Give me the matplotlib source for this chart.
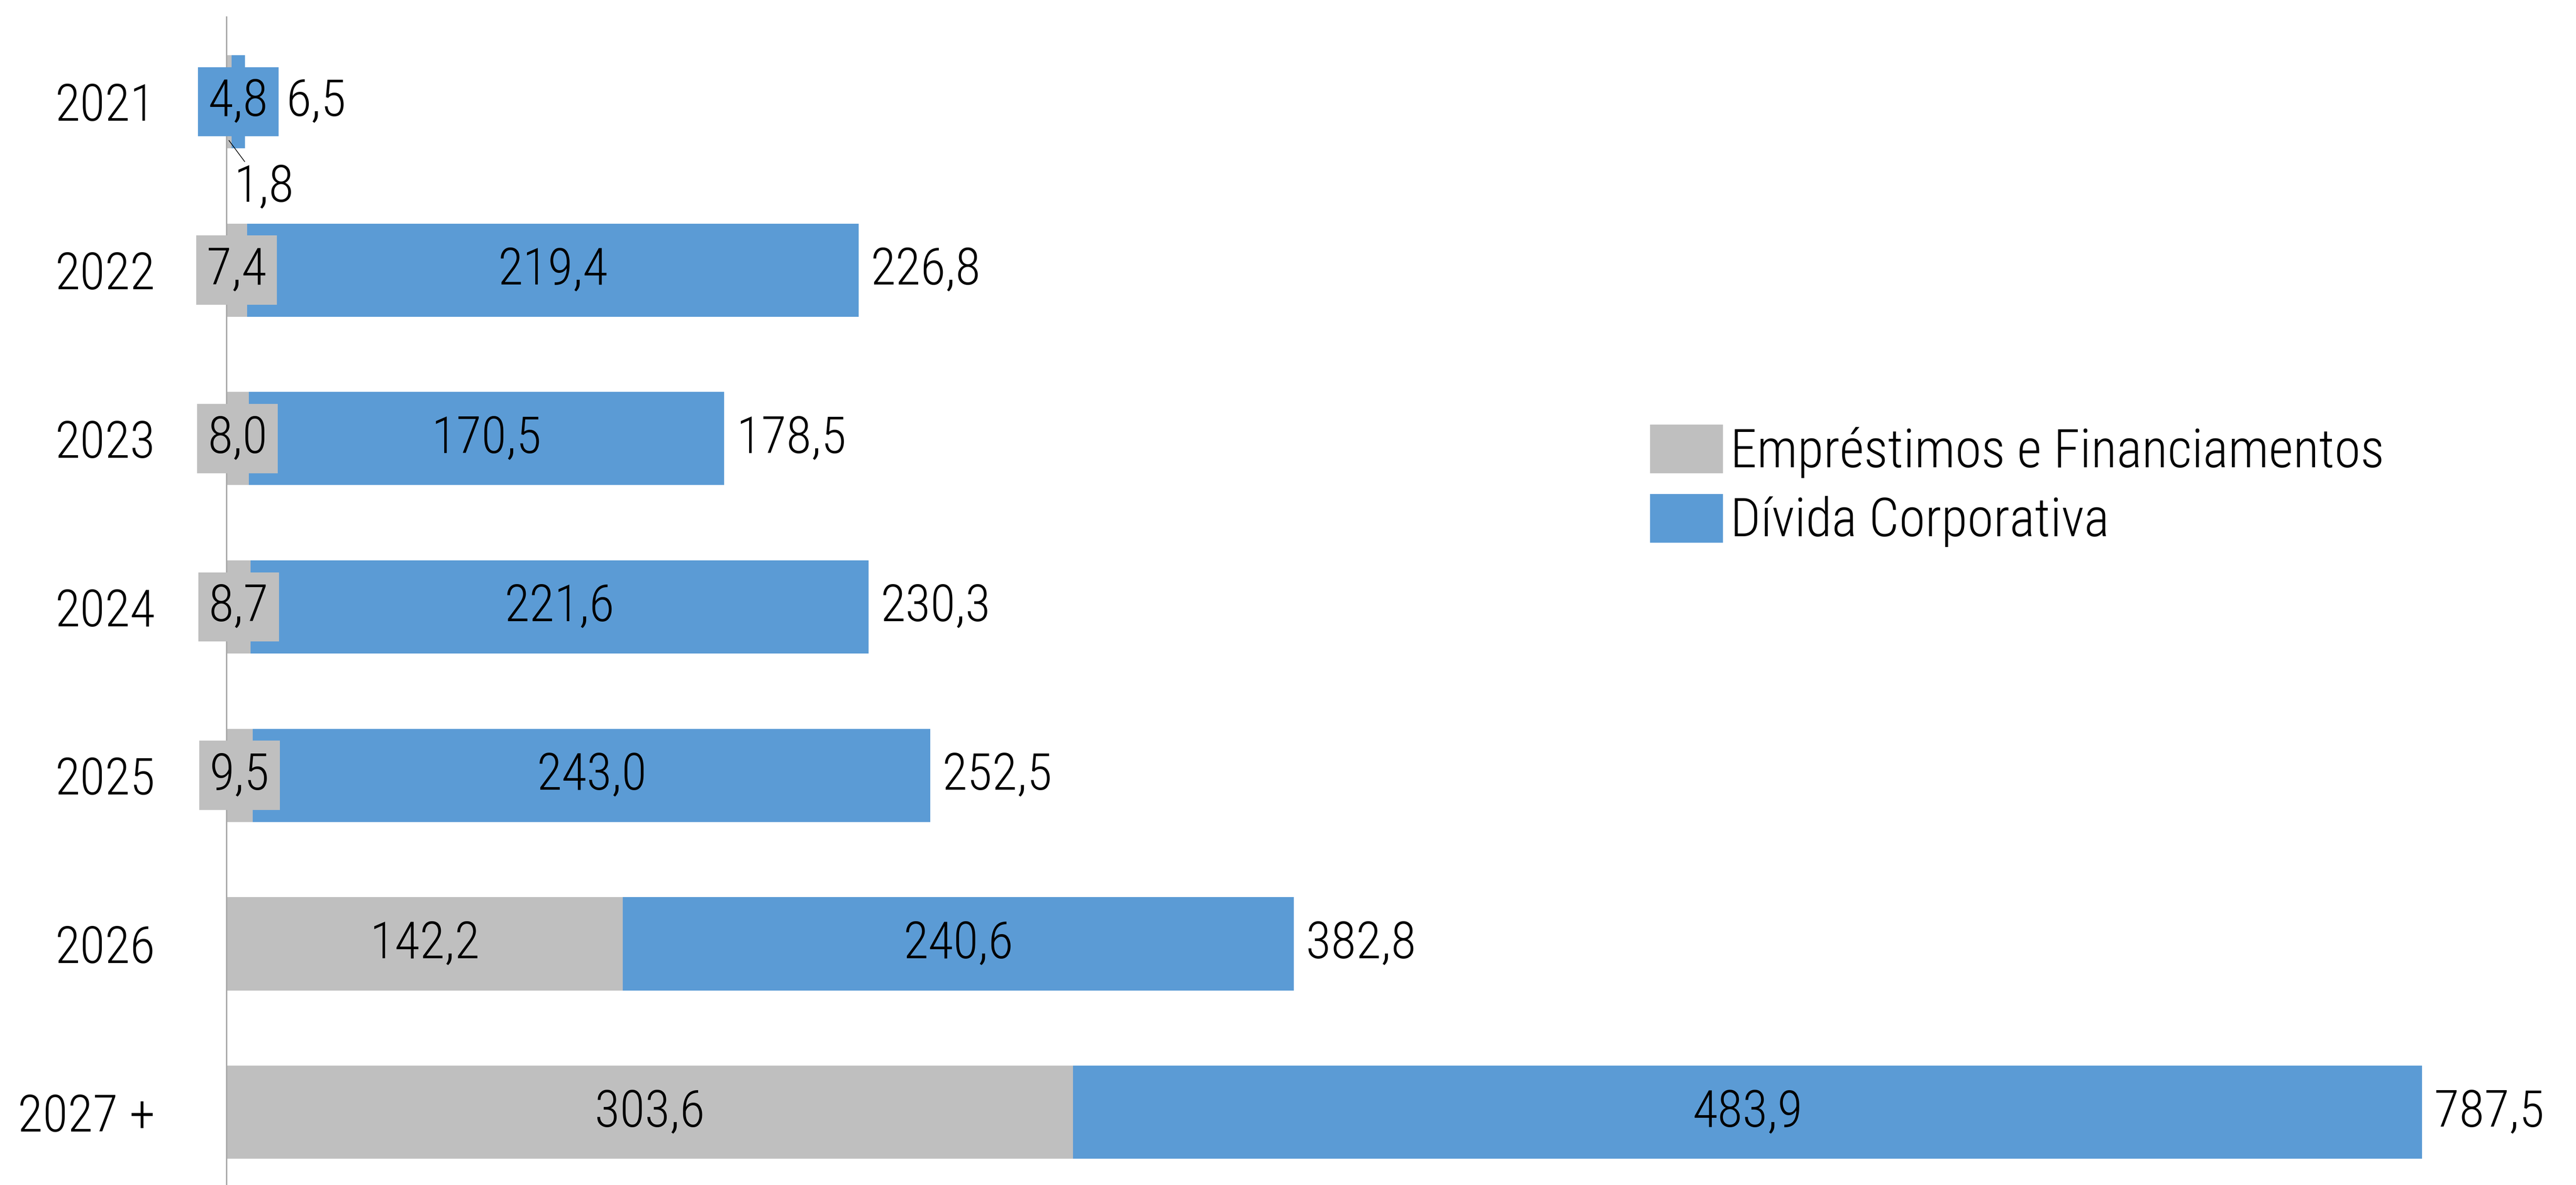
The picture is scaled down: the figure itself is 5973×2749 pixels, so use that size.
import matplotlib
matplotlib.use("Agg")
import matplotlib.pyplot as plt
import matplotlib.font_manager as fm
from matplotlib.patches import Patch

# Maturity schedule (R$ bilhões)
categories = ["2021", "2022", "2023", "2024", "2025", "2026", "2027 +"]
emprestimos = [1.8, 7.4, 8.0, 8.7, 9.5, 142.2, 303.6]
divida = [4.8, 219.4, 170.5, 221.6, 243.0, 240.6, 483.9]
totais = [6.5, 226.8, 178.5, 230.3, 252.5, 382.8, 787.5]
series_names = ["Empréstimos e Financiamentos", "Dívida Corporativa"]

GRAY = "#BFBFBF"
BLUE = "#5B9BD5"
AXIS = "#A6A6A6"

available = {f.name for f in fm.fontManager.ttflist}
FAMILY = next((n for n in ["Roboto Condensed", "Liberation Sans Narrow",
                           "Open Sans Condensed", "DejaVu Sans"] if n in available),
              "DejaVu Sans")
plt.rcParams["font.family"] = [FAMILY, "DejaVu Sans"]
plt.rcParams["font.weight"] = "light"
FS = 86


def fmt(v):
    return f"{v:.1f}".replace(".", ",")


W, H, DPI = 5973, 2749, 100
fig = plt.figure(figsize=(W / DPI, H / DPI), dpi=DPI)
left_px, top_px = 525, 39
ax = fig.add_axes([left_px / W, 0, 1 - left_px / W, (H - top_px) / H])

ypos = list(range(len(categories)))
bar_h = 0.553
ax.barh(ypos, emprestimos, height=bar_h, color=GRAY, label=series_names[0])
ax.barh(ypos, divida, left=emprestimos, height=bar_h, color=BLUE, label=series_names[1])

px_per_unit = 6.465
ax.set_xlim(0, (W - left_px) / px_per_unit)
ax.set_ylim(6.432, -0.504)

for s in ["top", "right", "bottom"]:
    ax.spines[s].set_visible(False)
ax.spines["left"].set_color(AXIS)
ax.spines["left"].set_linewidth(2.2)
ax.set_xticks([])
ax.set_yticks(ypos)
ax.set_yticklabels(categories)
ax.tick_params(axis="y", length=0, pad=119, labelsize=FS)

small = 20
box = "square,pad=0.2"
for i, (g, b, t) in enumerate(zip(emprestimos, divida, totais)):
    # gray segment label
    if g >= small:
        ax.text(g / 2, i, fmt(g), ha="center", va="center", fontsize=FS)
    elif b >= small:
        ax.text(g / 2, i, fmt(g), ha="center", va="center", fontsize=FS,
                bbox=dict(boxstyle=box, fc=GRAY, ec="none"))
    else:
        ax.annotate(fmt(g), xy=(g / 2, i + 0.23), xytext=(58, -78),
                    textcoords="offset points", ha="center", va="center",
                    fontsize=FS,
                    arrowprops=dict(arrowstyle="-", color="black", lw=1.2,
                                    shrinkA=0, shrinkB=0))
    # blue segment label
    if b >= small:
        ax.text(g + b / 2, i, fmt(b), ha="center", va="center", fontsize=FS)
    else:
        ax.text(g + b / 2, i, fmt(b), ha="center", va="center", fontsize=FS,
                bbox=dict(boxstyle=box, fc=BLUE, ec="none"))
    # total label
    off = 20 if b >= small else 69
    ax.annotate(fmt(t), xy=(g + b, i), xytext=(off, 0), textcoords="offset points",
                ha="left", va="center", fontsize=FS)

handles = [Patch(facecolor=GRAY, edgecolor="none", label=series_names[0]),
           Patch(facecolor=BLUE, edgecolor="none", label=series_names[1])]
LFS = 89
fig.legend(handles=handles, loc="upper left", bbox_to_anchor=(3826 / W, 1 - 985 / H),
           bbox_transform=fig.transFigure, frameon=False, fontsize=LFS,
           borderpad=0, borderaxespad=0, handlelength=169 / (LFS * DPI / 72),
           handleheight=127 / (LFS * DPI / 72),
           handletextpad=0.14, labelspacing=0.30)

fig.savefig("out.png", dpi=DPI, facecolor="white")
